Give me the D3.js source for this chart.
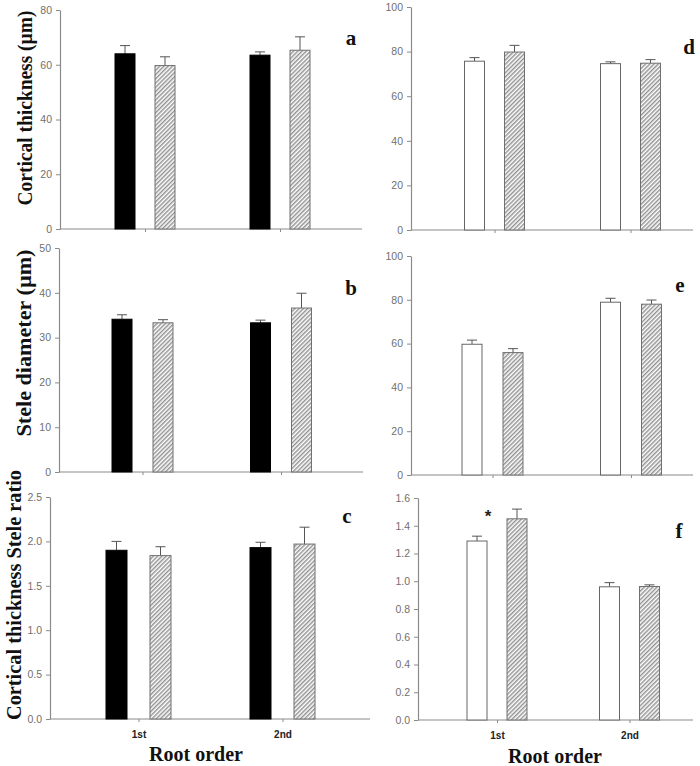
<!DOCTYPE html>
<html>
<head>
<meta charset="utf-8">
<script src="https://cdn.jsdelivr.net/npm/d3@7"></script>
<style>
  html, body { margin: 0; padding: 0; background: #fff; }
  svg { display: block; }
</style>
</head>
<body>
<svg id="chart" width="700" height="766"></svg>
<script>
// ---------------- DATA ----------------
const categories = ["1st", "2nd"];

// Panel a: Cortical thickness (µm) — black vs hatched
const aSolid = [64.0, 63.5];
const aSolidErr = [3.0, 1.2];
const aHatch = [59.7, 65.3];
const aHatchErr = [3.2, 4.9];
const aTicks = [0, 20, 40, 60, 80];

// Panel b: Stele diameter (µm)
const bSolid = [34.1, 33.3];
const bSolidErr = [1.0, 0.6];
const bHatch = [33.3, 36.6];
const bHatchErr = [0.7, 3.3];
const bTicks = [0, 10, 20, 30, 40, 50];

// Panel c: Cortical thickness / Stele ratio
const cSolid = [1.90, 1.93];
const cSolidErr = [0.10, 0.06];
const cHatch = [1.84, 1.97];
const cHatchErr = [0.10, 0.19];
const cTicks = [0.0, 0.5, 1.0, 1.5, 2.0, 2.5];

// Panel d: Cortical thickness (µm) — white vs hatched
const dOpen = [75.7, 74.6];
const dOpenErr = [1.6, 0.8];
const dHatch = [79.8, 74.8];
const dHatchErr = [3.0, 1.6];
const dTicks = [0, 20, 40, 60, 80, 100];

// Panel e: Stele diameter (µm)
const eOpen = [59.7, 78.9];
const eOpenErr = [1.9, 1.8];
const eHatch = [55.9, 78.0];
const eHatchErr = [1.8, 1.9];
const eTicks = [0, 20, 40, 60, 80, 100];

// Panel f: ratio
const fOpen = [1.29, 0.96];
const fOpenErr = [0.035, 0.03];
const fHatch = [1.45, 0.962];
const fHatchErr = [0.07, 0.012];
const fTicks = [0.0, 0.2, 0.4, 0.6, 0.8, 1.0, 1.2, 1.4, 1.6];

const yLabels = ["Cortical thickness (\u00b5m)", "Stele diameter (\u00b5m)", "Cortical thickness Stele ratio"];
const xTitle = "Root order";

// ---------------- LAYOUT ----------------
const svg = d3.select("#chart");
svg.append("rect").attr("width", 700).attr("height", 766).attr("fill", "#fff");

const defs = svg.append("defs");
const pat = defs.append("pattern")
  .attr("id", "hatch")
  .attr("patternUnits", "userSpaceOnUse")
  .attr("width", 3).attr("height", 3)
  .attr("patternTransform", "rotate(45)");
pat.append("rect").attr("width", 3).attr("height", 3).attr("fill", "#fff");
pat.append("line").attr("x1", 0.8).attr("y1", 0).attr("x2", 0.8).attr("y2", 3)
  .attr("stroke", "#6e6e6e").attr("stroke-width", 1.1);

const panels = [
  { key: "a", solid: aSolid, solidErr: aSolidErr, hatch: aHatch, hatchErr: aHatchErr, ticks: aTicks, fmt: d3.format("d"),
    left: 60, right: 362, top: 10, bottom: 229, c0: 145, c1: 280, bw: 20, sep: 20, filled: true,
    letter: [351, 45], bottomRow: false },
  { key: "b", solid: bSolid, solidErr: bSolidErr, hatch: bHatch, hatchErr: bHatchErr, ticks: bTicks, fmt: d3.format("d"),
    left: 59, right: 363, top: 248, bottom: 472, c0: 142.5, c1: 281, bw: 20, sep: 21, filled: true,
    letter: [351, 295], bottomRow: false },
  { key: "c", solid: cSolid, solidErr: cSolidErr, hatch: cHatch, hatchErr: cHatchErr, ticks: cTicks, fmt: d3.format(".1f"),
    left: 50, right: 370, top: 497, bottom: 719, c0: 138.5, c1: 282.5, bw: 21, sep: 23, filled: true,
    letter: [347, 523], bottomRow: true },
  { key: "d", solid: dOpen, solidErr: dOpenErr, hatch: dHatch, hatchErr: dHatchErr, ticks: dTicks, fmt: d3.format("d"),
    left: 411, right: 693, top: 7, bottom: 230, c0: 494.5, c1: 630.5, bw: 20, sep: 20, filled: false,
    letter: [689, 54], bottomRow: false },
  { key: "e", solid: eOpen, solidErr: eOpenErr, hatch: eHatch, hatchErr: eHatchErr, ticks: eTicks, fmt: d3.format("d"),
    left: 411, right: 693, top: 256, bottom: 475, c0: 492.5, c1: 631, bw: 20, sep: 21, filled: false,
    letter: [680, 292], bottomRow: false },
  { key: "f", solid: fOpen, solidErr: fOpenErr, hatch: fHatch, hatchErr: fHatchErr, ticks: fTicks, fmt: d3.format(".1f"),
    left: 418, right: 693, top: 498, bottom: 720, c0: 497, c1: 629.5, bw: 20, sep: 20, filled: false,
    letter: [679, 538], bottomRow: true }
];

const axisColor = "#8a8a8a";
const tickTextColor = "#707070";

panels.forEach(p => {
  const g = svg.append("g").attr("class", "panel-" + p.key);
  const yMax = p.ticks[p.ticks.length - 1];
  const y = d3.scaleLinear().domain([0, yMax]).range([p.bottom, p.top]);
  const x = d3.scalePoint().domain(categories).range([p.c0, p.c1]);
  const sub = d3.scaleBand().domain(["solid", "hatch"])
    .range([-(p.sep / 2 + p.bw), p.sep / 2 + p.bw])
    .paddingInner(p.sep / (p.sep + p.bw));

  // Y axis
  const yAxis = d3.axisLeft(y).tickValues(p.ticks).tickFormat(p.fmt).tickSize(4).tickSizeOuter(0).tickPadding(4);
  const ya = g.append("g").attr("transform", `translate(${p.left},0)`).call(yAxis);
  ya.select(".domain").attr("stroke", axisColor).attr("stroke-width", 1.2);
  ya.selectAll(".tick line").attr("stroke", axisColor);
  ya.selectAll(".tick text").attr("fill", tickTextColor)
    .style("font-family", "'Liberation Sans', Arial, sans-serif").style("font-size", "10.5px");

  // X baseline
  g.append("line")
    .attr("x1", p.left).attr("x2", p.right)
    .attr("y1", y(0)).attr("y2", y(0))
    .attr("stroke", axisColor).attr("stroke-width", 1.2);

  // X ticks
  const xAxis = d3.axisBottom(x).tickSize(3).tickPadding(9)
    .tickFormat(p.bottomRow ? (d => d) : () => "");
  const xa = g.append("g").attr("transform", `translate(0,${y(0)})`).call(xAxis);
  xa.select(".domain").remove();
  xa.selectAll(".tick line").attr("stroke", axisColor);
  xa.selectAll(".tick text").attr("fill", "#222")
    .style("font-family", "'Liberation Sans', Arial, sans-serif")
    .style("font-size", "10px").style("font-weight", "bold");

  // Bars
  const series = [
    { id: "solid", vals: p.solid, errs: p.solidErr },
    { id: "hatch", vals: p.hatch, errs: p.hatchErr }
  ];
  series.forEach(s => {
    const data = categories.map((c, i) => ({ c, v: s.vals[i], e: s.errs[i] }));
    const bx = d => x(d.c) + sub(s.id);
    const cx = d => bx(d) + sub.bandwidth() / 2;

    // error bars (upper only)
    g.selectAll(null).data(data).enter().append("line")
      .attr("x1", cx).attr("x2", cx)
      .attr("y1", d => y(d.v)).attr("y2", d => y(d.v + d.e))
      .attr("stroke", "#555").attr("stroke-width", 1);
    g.selectAll(null).data(data).enter().append("line")
      .attr("x1", d => cx(d) - 5).attr("x2", d => cx(d) + 5)
      .attr("y1", d => y(d.v + d.e)).attr("y2", d => y(d.v + d.e))
      .attr("stroke", "#555").attr("stroke-width", 1);

    g.selectAll(null).data(data).enter().append("rect")
      .attr("x", bx)
      .attr("y", d => y(d.v))
      .attr("width", sub.bandwidth())
      .attr("height", d => y(0) - y(d.v))
      .attr("fill", s.id === "hatch" ? "url(#hatch)" : (p.filled ? "#000" : "#fff"))
      .attr("stroke", s.id === "hatch" ? "#707070" : (p.filled ? "#000" : "#666"))
      .attr("stroke-width", 1);
  });

  // Panel letter
  g.append("text")
    .attr("x", p.letter[0]).attr("y", p.letter[1])
    .attr("text-anchor", "middle")
    .style("font-family", "'Liberation Serif', 'Times New Roman', serif")
    .style("font-weight", "bold").style("font-size", "21px")
    .attr("fill", "#111")
    .text(p.key);
});

// Significance asterisk in panel f
svg.append("text")
  .attr("x", 488).attr("y", 522)
  .attr("text-anchor", "middle")
  .style("font-family", "'Liberation Sans', Arial, sans-serif")
  .style("font-size", "17px").style("font-weight", "bold").attr("fill", "#222")
  .text("*");

// Y axis titles
const yTitlePos = [[32, 108, 195], [31, 343, 187], [21, 595, 250]];
yLabels.forEach((t, i) => {
  svg.append("text")
    .attr("transform", `translate(${yTitlePos[i][0]},${yTitlePos[i][1]}) rotate(-90)`)
    .attr("text-anchor", "middle")
    .attr("textLength", yTitlePos[i][2])
    .attr("lengthAdjust", "spacingAndGlyphs")
    .style("font-family", "'Liberation Serif', 'Times New Roman', serif")
    .style("font-weight", "bold").style("font-size", "20px")
    .attr("fill", "#111")
    .text(t);
});

// X axis titles
[[196, 761], [555, 763]].forEach(pos => {
  svg.append("text")
    .attr("x", pos[0]).attr("y", pos[1])
    .attr("text-anchor", "middle")
    .style("font-family", "'Liberation Serif', 'Times New Roman', serif")
    .style("font-weight", "bold").style("font-size", "20px")
    .attr("fill", "#111")
    .text(xTitle);
});
</script>
</body>
</html>
